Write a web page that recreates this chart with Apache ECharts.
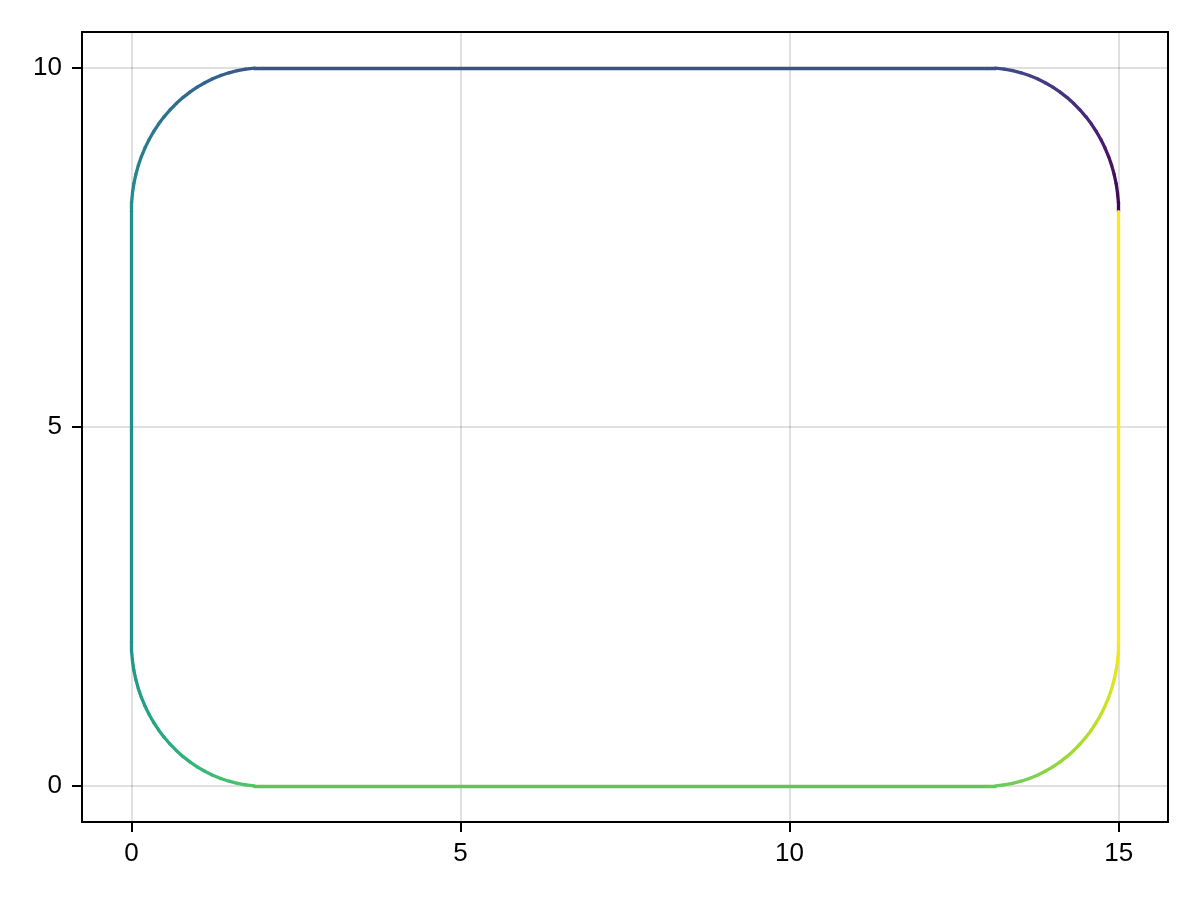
<!DOCTYPE html>
<html>
<head>
<meta charset="utf-8">
<script src="https://cdn.jsdelivr.net/npm/echarts@6/dist/echarts.min.js"></script>
<style>
html,body{margin:0;padding:0;background:#fff;}
#chart{width:1200px;height:900px;}
</style>
</head>
<body>
<div id="chart"></div>
<script>
// Path points (rounded rectangle, traversed counter-clockwise from (15,8))
var topRightArc = [[15,8],[14.99572,8.13081],[14.98289,8.26105],[14.96157,8.39018],[14.93185,8.51764],[14.89386,8.64288],[14.84776,8.76537],[14.79375,8.88458],[14.73205,9.0],[14.66294,9.11114],[14.58671,9.21752],[14.50368,9.31869],[14.41421,9.41421],[14.31869,9.50368],[14.21752,9.58671],[14.11114,9.66294],[14.0,9.73205],[13.88458,9.79375],[13.76537,9.84776],[13.64288,9.89386],[13.51764,9.93185],[13.39018,9.96157],[13.26105,9.98289],[13.13081,9.99572],[13,10]];
var topLeftArc = [[2,10],[1.86919,9.99572],[1.73895,9.98289],[1.60982,9.96157],[1.48236,9.93185],[1.35712,9.89386],[1.23463,9.84776],[1.11542,9.79375],[1.0,9.73205],[0.88886,9.66294],[0.78248,9.58671],[0.68131,9.50368],[0.58579,9.41421],[0.49632,9.31869],[0.41329,9.21752],[0.33706,9.11114],[0.26795,9.0],[0.20625,8.88458],[0.15224,8.76537],[0.10614,8.64288],[0.06815,8.51764],[0.03843,8.39018],[0.01711,8.26105],[0.00428,8.13081],[0,8]];
var bottomLeftArc = [[0,2],[0.00428,1.86919],[0.01711,1.73895],[0.03843,1.60982],[0.06815,1.48236],[0.10614,1.35712],[0.15224,1.23463],[0.20625,1.11542],[0.26795,1.0],[0.33706,0.88886],[0.41329,0.78248],[0.49632,0.68131],[0.58579,0.58579],[0.68131,0.49632],[0.78248,0.41329],[0.88886,0.33706],[1.0,0.26795],[1.11542,0.20625],[1.23463,0.15224],[1.35712,0.10614],[1.48236,0.06815],[1.60982,0.03843],[1.73895,0.01711],[1.86919,0.00428],[2,0]];
var bottomRightArc = [[13,0],[13.13081,0.00428],[13.26105,0.01711],[13.39018,0.03843],[13.51764,0.06815],[13.64288,0.10614],[13.76537,0.15224],[13.88458,0.20625],[14.0,0.26795],[14.11114,0.33706],[14.21752,0.41329],[14.31869,0.49632],[14.41421,0.58579],[14.50368,0.68131],[14.58671,0.78248],[14.66294,0.88886],[14.73205,1.0],[14.79375,1.11542],[14.84776,1.23463],[14.89386,1.35712],[14.93185,1.48236],[14.96157,1.60982],[14.98289,1.73895],[14.99572,1.86919],[15,2]];
var closingPoint = [[15,8]];

var xTicks = [0, 5, 10, 15];
var yTicks = [0, 5, 10];

// viridis colormap stops
var viridis = ['#440154','#482475','#414487','#355f8d','#2a788e','#21918c','#22a884','#44bf70','#7ad151','#bddf26','#fde725'];
function hexToRgb(h){return [parseInt(h.substr(1,2),16),parseInt(h.substr(3,2),16),parseInt(h.substr(5,2),16)];}
function cmap(t){
  t = Math.max(0, Math.min(1, t));
  var p = t * (viridis.length - 1);
  var i = Math.min(Math.floor(p), viridis.length - 2);
  var f = p - i;
  var a = hexToRgb(viridis[i]), b = hexToRgb(viridis[i+1]);
  var c = a.map(function(v, k){return Math.round(v + (b[k]-v)*f);});
  return 'rgb(' + c.join(',') + ')';
}

var path = [].concat(topRightArc, topLeftArc, bottomLeftArc, bottomRightArc, closingPoint);
var n = path.length;
var segs = [];
for (var i = 0; i < n - 1; i++) {
  segs.push({
    coords: [path[i], path[i+1]],
    lineStyle: { color: cmap((i + 0.5) / (n - 1)) }
  });
}

var chart = echarts.init(document.getElementById('chart'), null, {renderer: 'canvas'});
var fontFamily = '"Liberation Sans", Arial, Helvetica, sans-serif';
chart.setOption({
  animation: false,
  backgroundColor: '#ffffff',
  grid: {
    left: 82, right: 32, top: 32, bottom: 78,
    show: true, borderColor: '#000', borderWidth: 2, backgroundColor: 'transparent'
  },
  xAxis: {
    type: 'value', min: -0.75, max: 15.75,
    axisLine: { show: true, onZero: false, lineStyle: { color: '#000', width: 2 } },
    axisTick: { show: true, inside: false, length: 10, lineStyle: { color: '#000', width: 2 }, customValues: xTicks },
    axisLabel: { show: true, margin: 19, fontSize: 26, color: '#000', fontFamily: fontFamily, customValues: xTicks },
    splitLine: { show: true, lineStyle: { color: 'rgba(0,0,0,0.12)', width: 2 } }
  },
  yAxis: {
    type: 'value', min: -0.5, max: 10.5,
    axisLine: { show: true, onZero: false, lineStyle: { color: '#000', width: 2 } },
    axisTick: { show: true, inside: false, length: 10, lineStyle: { color: '#000', width: 2 }, customValues: yTicks },
    axisLabel: { show: true, margin: 20, fontSize: 26, color: '#000', fontFamily: fontFamily, customValues: yTicks },
    splitLine: { show: true, lineStyle: { color: 'rgba(0,0,0,0.12)', width: 2 } }
  },
  series: [{
    type: 'lines',
    coordinateSystem: 'cartesian2d',
    polyline: false,
    silent: true,
    lineStyle: { width: 3.3, opacity: 1, cap: 'round', join: 'round' },
    data: segs
  }]
});
</script>
</body>
</html>
